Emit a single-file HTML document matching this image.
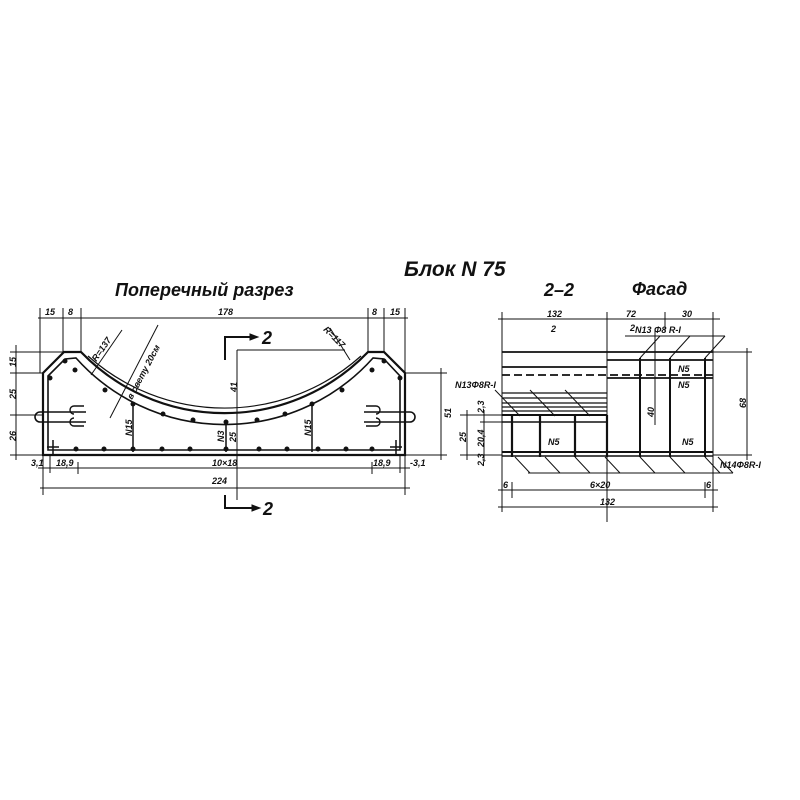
<!DOCTYPE html>
<html><head><meta charset="utf-8"><style>
html,body{margin:0;padding:0;background:#fff}
svg{display:block}
text{font-family:"Liberation Sans","DejaVu Sans",sans-serif;font-style:italic;font-weight:bold;fill:#111}
</style></head><body>
<svg width="800" height="800" viewBox="0 0 800 800" xmlns="http://www.w3.org/2000/svg">
<rect width="800" height="800" fill="#fff"/>
<!-- titles -->
<text x="404" y="276" font-size="21" font-weight="normal">Блок  N 75</text>
<text x="115" y="296" font-size="18" font-weight="normal">Поперечный  разрез</text>
<text x="544" y="296" font-size="18" font-weight="normal">2–2</text>
<text x="632" y="295" font-size="18" font-weight="normal">Фасад</text>

<g stroke="#111" fill="none" stroke-width="1">
<!-- LEFT SECTION -->
<path d="M43 373 L64 352 L81 352 A199 199 0 0 0 368 352 L384 352 L405 373 L405 455 L43 455 Z" stroke-width="2.2"/>
<path d="M48 376 L65 359 L76 358 A199 199 0 0 0 373 358 L384 359 L400 376 L400 450 L48 450 Z" stroke-width="1.6"/>
<path d="M88 356 A205 205 0 0 0 361 356" stroke-width="1.2"/>
<line x1="133" y1="404" x2="133" y2="452" stroke-width="1.5"/>
<line x1="312" y1="404" x2="312" y2="452" stroke-width="1.5"/>
<line x1="226" y1="420" x2="226" y2="452" stroke-width="1.5"/>
<path d="M86 412 L40 412 A5 5 0 0 0 40 422 L86 422" stroke-width="1.6"/>
<path d="M84 406 L74 406 A4 4 0 0 0 74 414 M74 418 A4 4 0 0 0 74 426 L84 426" stroke-width="1.4"/>
<path d="M364 412 L410 412 A5 5 0 0 1 410 422 L364 422" stroke-width="1.6"/>
<path d="M366 406 L376 406 A4 4 0 0 1 376 414 M376 418 A4 4 0 0 1 376 426 L366 426" stroke-width="1.4"/>
<line x1="22" y1="415" x2="43" y2="415"/>
<path d="M53 440 v14 M47 447 h12 M396 440 v14 M390 447 h12" stroke-width="1.5"/>
<line x1="38" y1="318" x2="408" y2="318"/>
<path d="M40 308 v65 M63 308 v44 M81 308 v44 M368 308 v44 M384 308 v44 M405 308 v65"/>
<line x1="16" y1="345" x2="16" y2="460"/>
<path d="M10 352 h54 M10 373 h33 M10 415 h12 M10 455 h33"/>
<line x1="441" y1="368" x2="441" y2="460"/>
<path d="M405 373 h42 M405 455 h42"/>
<line x1="38" y1="468" x2="410" y2="468"/>
<path d="M43 455 v40 M50 455 v18 M78 462 v12 M372 462 v12 M400 455 v18 M405 455 v40"/>
<line x1="40" y1="488" x2="410" y2="488"/>
<path d="M225 360 L225 337 L250 337" stroke-width="2"/>
<path d="M250 334 L258 337 L250 340 Z" fill="#111"/>
<path d="M225 495 L225 508 L252 508" stroke-width="2"/>
<path d="M252 505 L260 508 L252 511 Z" fill="#111"/>
<line x1="237" y1="350" x2="237" y2="500"/>
<line x1="237" y1="350" x2="345" y2="350"/>
<line x1="91" y1="375" x2="122" y2="330"/>
<line x1="110" y1="418" x2="158" y2="325"/>
<line x1="330" y1="328" x2="350" y2="360"/>
</g>
<g fill="#111">
<circle cx="65" cy="361" r="2.5"/><circle cx="75" cy="370" r="2.5"/><circle cx="50" cy="378" r="2.5"/>
<circle cx="105" cy="390" r="2.5"/><circle cx="133" cy="404" r="2.5"/><circle cx="163" cy="414" r="2.5"/>
<circle cx="193" cy="420" r="2.5"/><circle cx="226" cy="422" r="2.5"/><circle cx="257" cy="420" r="2.5"/>
<circle cx="285" cy="414" r="2.5"/><circle cx="312" cy="404" r="2.5"/><circle cx="342" cy="390" r="2.5"/>
<circle cx="372" cy="370" r="2.5"/><circle cx="384" cy="361" r="2.5"/><circle cx="400" cy="378" r="2.5"/>
<circle cx="76" cy="449" r="2.5"/><circle cx="104" cy="449" r="2.5"/><circle cx="133" cy="449" r="2.5"/>
<circle cx="162" cy="449" r="2.5"/><circle cx="190" cy="449" r="2.5"/><circle cx="226" cy="449" r="2.5"/>
<circle cx="259" cy="449" r="2.5"/><circle cx="287" cy="449" r="2.5"/><circle cx="318" cy="449" r="2.5"/>
<circle cx="346" cy="449" r="2.5"/><circle cx="372" cy="449" r="2.5"/>
</g>
<g font-size="9">
<text x="45" y="315">15</text><text x="68" y="315">8</text><text x="218" y="315">178</text>
<text x="372" y="315">8</text><text x="390" y="315">15</text>
<text x="56" y="466">18,9</text><text x="212" y="466">10×18</text><text x="373" y="466">18,9</text>
<text x="31" y="466">3,1</text><text x="410" y="466">-3,1</text>
<text x="212" y="484">224</text>
<text x="262" y="344" font-size="18" font-style="normal">2</text>
<text x="263" y="515" font-size="18" font-style="normal">2</text>
<text x="7" y="366" transform="rotate(-90 12 362)">15</text>
<text x="7" y="398" transform="rotate(-90 12 394)">25</text>
<text x="7" y="440" transform="rotate(-90 12 436)">26</text>
<text x="443" y="418" transform="rotate(-90 447 414)">51</text>
<text x="229" y="392" transform="rotate(-90 233 388)">41</text>
<text x="124" y="436" transform="rotate(-90 128 432)">N15</text>
<text x="303" y="436" transform="rotate(-90 307 432)">N15</text>
<text x="216" y="442" transform="rotate(-90 220 438)">N3</text>
<text x="228" y="442" transform="rotate(-90 232 438)">25</text>
<text x="90" y="360" transform="rotate(-55 95 355)">R=137</text>
<text x="325" y="335" transform="rotate(45 330 330)">R=117</text>
<text x="108" y="400" transform="rotate(-62 120 380)">в свету 20см</text>
</g>

<!-- RIGHT: Facade -->
<g stroke="#111" fill="none" stroke-width="1">
<line x1="498" y1="319" x2="720" y2="319"/>
<path d="M502 312 v200 M607 312 v210 M665 312 v20 M713 312 v200"/>
<line x1="502" y1="352" x2="713" y2="352" stroke-width="1.8"/>
<line x1="607" y1="360" x2="713" y2="360" stroke-width="1.8"/>
<line x1="502" y1="367" x2="607" y2="367" stroke-width="1.8"/>
<line x1="502" y1="375" x2="713" y2="375" stroke-width="1.8" stroke-dasharray="8 4"/>
<line x1="607" y1="378" x2="713" y2="378" stroke-width="1.8"/>
<path d="M502 393 H607 M502 398 H607 M502 403 H607 M502 407 H607 M502 411 H607" stroke-width="1.2"/>
<path d="M495 390 L520 416 M530 390 L555 416 M565 390 L590 416" />
<line x1="502" y1="415" x2="607" y2="415" stroke-width="2"/>
<line x1="502" y1="422" x2="607" y2="422" stroke-width="1.5"/>
<line x1="502" y1="452" x2="713" y2="452" stroke-width="2"/>
<line x1="502" y1="456" x2="713" y2="456" stroke-width="1.5"/>
<path d="M512 415 V457 M540 415 V457 M575 415 V457 M607 415 V457" stroke-width="2.2"/>
<path d="M640 358 V457 M670 358 V457 M705 358 V457" stroke-width="2"/>
<line x1="655" y1="330" x2="655" y2="425"/>
<line x1="625" y1="336" x2="725" y2="336"/>
<path d="M640 358 L660 336 M670 358 L690 336 M705 358 L725 336"/>
<line x1="713" y1="352" x2="752" y2="352"/>
<line x1="713" y1="455" x2="752" y2="455"/>
<line x1="747" y1="348" x2="747" y2="460"/>
<line x1="460" y1="415" x2="502" y2="415"/>
<line x1="460" y1="455" x2="502" y2="455"/>
<line x1="467" y1="410" x2="467" y2="460"/>
<line x1="484" y1="410" x2="484" y2="462"/>
<line x1="480" y1="422" x2="502" y2="422"/>
<path d="M515 457 L530 473 M545 457 L560 473 M575 457 L590 473 M605 457 L620 473 M640 457 L655 473 M670 457 L685 473 M705 457 L720 473 M718 457 L733 473"/>
<line x1="528" y1="473" x2="733" y2="473"/>
<line x1="498" y1="490" x2="718" y2="490"/>
<path d="M512 482 v16 M705 482 v16"/>
<line x1="498" y1="507" x2="718" y2="507"/>
</g>
<g font-size="9">
<text x="547" y="317">132</text><text x="551" y="332">2</text>
<text x="626" y="317">72</text><text x="630" y="331">2</text>
<text x="682" y="317">30</text>
<text x="635" y="333">N13 Φ8 R-I</text>
<text x="455" y="388">N13Φ8R-I</text>
<text x="678" y="372">N5</text><text x="678" y="388">N5</text>
<text x="548" y="445">N5</text><text x="682" y="445">N5</text>
<text x="720" y="468">N14Φ8R-I</text>
<text x="590" y="488">6×20</text>
<text x="503" y="488">6</text><text x="706" y="488">6</text>
<text x="600" y="505">132</text>
<text x="456" y="440" transform="rotate(-90 462 436)">25</text>
<text x="474" y="445" transform="rotate(-90 480 441)">20,4</text>
<text x="476" y="413" transform="rotate(-90 480 409)">2,3</text>
<text x="476" y="466" transform="rotate(-90 480 462)">2,3</text>
<text x="738" y="408" transform="rotate(-90 742 404)">68</text>
<text x="645" y="416" transform="rotate(-90 650 412)">40</text>
</g>
</svg>
</body></html>
